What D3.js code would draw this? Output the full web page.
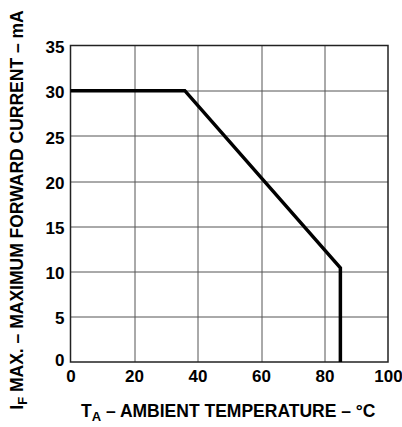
<!DOCTYPE html>
<meta charset="utf-8">
<style>
body { margin: 0; background: #fff; }
text { font-family: "Liberation Sans", Arial, sans-serif; font-weight: bold; fill: #000; }
.grid line { stroke: #555; stroke-width: 1px; }
.axis text { font-size: 17px; }
.axis path, .axis line { display: none; }
.curve { fill: none; stroke: #000; stroke-width: 3.5px; stroke-linejoin: miter; }
.title { font-size: 17.5px; }
</style>
<svg width="402" height="427"></svg>
<script src="https://d3js.org/d3.v7.min.js"></script>
<script>
// derating curve
var temps = [0, 36, 85, 85],
    current = [30, 30, 10.4, 0];

var xTicks = [0, 20, 40, 60, 80, 100],
    yTicks = [0, 5, 10, 15, 20, 25, 30, 35];

var svg = d3.select("svg"),
    margin = {top: 45.5, right: 14, bottom: 65, left: 70.5},
    width = +svg.attr("width") - margin.left - margin.right,
    height = +svg.attr("height") - margin.top - margin.bottom,
    g = svg.append("g").attr("transform", "translate(" + margin.left + "," + margin.top + ")");

var x = d3.scaleLinear().domain([0, 100]).range([0, width]);
var y = d3.scaleLinear().domain([0, 35]).range([height, 0]);

g.append("g")
    .attr("class", "grid")
    .selectAll("line.v")
    .data(xTicks.slice(1, -1))
  .enter().append("line")
    .attr("x1", function(d) { return Math.round(x(d)) + 0.5; })
    .attr("x2", function(d) { return Math.round(x(d)) + 0.5; })
    .attr("y1", 0)
    .attr("y2", height);

g.select(".grid").selectAll("line.h")
    .data(yTicks.slice(1, -1))
  .enter().append("line")
    .attr("class", "h")
    .attr("x1", 0)
    .attr("x2", width)
    .attr("y1", function(d) { return Math.round(y(d)) + 0.5; })
    .attr("y2", function(d) { return Math.round(y(d)) + 0.5; });

g.append("rect")
    .attr("x", 0)
    .attr("y", 0)
    .attr("width", width)
    .attr("height", height)
    .attr("fill", "none")
    .attr("stroke", "#222")
    .attr("stroke-width", 1.5);

var line = d3.line()
    .x(function(d) { return x(d[0]); })
    .y(function(d) { return y(d[1]); });

g.append("path")
    .datum(d3.zip(temps, current))
    .attr("class", "curve")
    .attr("d", line);

g.append("g")
    .attr("class", "axis")
    .attr("transform", "translate(0," + height + ")")
    .call(d3.axisBottom(x).tickValues(xTicks).tickSize(0).tickPadding(8));

// the "0" on the y axis sits a little above the baseline so it clears the x labels
g.append("g")
    .attr("class", "axis")
    .call(d3.axisLeft(y).tickValues(yTicks).tickSize(0).tickPadding(6))
  .selectAll("text")
    .attr("dy", function(d) { return d === 0 ? "0.2em" : "0.42em"; });

var xt = svg.append("text")
    .attr("class", "title")
    .attr("x", margin.left + width / 2 - 1)
    .attr("y", 417)
    .attr("text-anchor", "middle");
xt.append("tspan").text("T");
xt.append("tspan").attr("dy", 4).attr("font-size", "13px").text("A");
xt.append("tspan").attr("dy", -4).text(" \u2013 AMBIENT TEMPERATURE \u2013 \u00b0C");

var yt = svg.append("text")
    .attr("class", "title")
    .attr("transform", "translate(23," + 210 + ") rotate(-90)")
    .attr("text-anchor", "middle");
yt.append("tspan").text("I");
yt.append("tspan").attr("dy", 4).attr("font-size", "13px").text("F");
yt.append("tspan").attr("dy", -4).text(" MAX. \u2013 MAXIMUM FORWARD CURRENT \u2013 mA");
</script>
